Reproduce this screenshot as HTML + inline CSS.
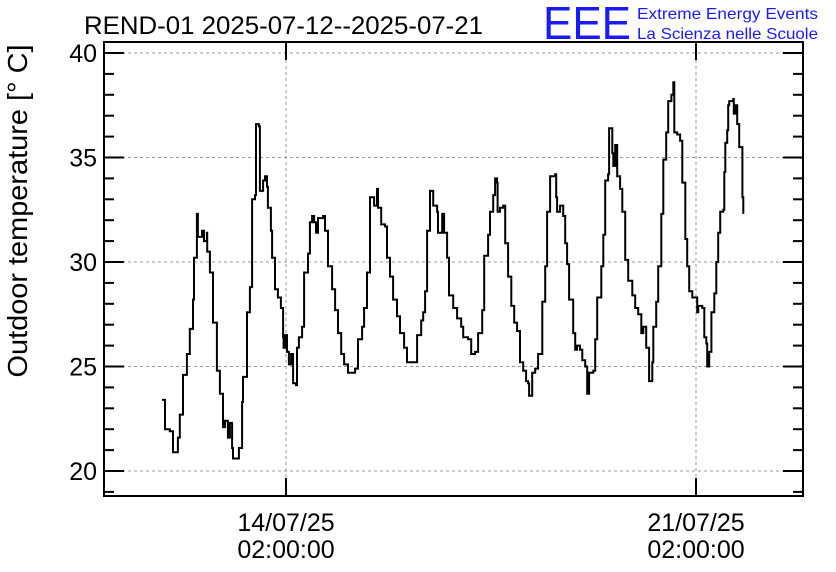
<!DOCTYPE html>
<html><head><meta charset="utf-8"><style>
body{margin:0;background:#fff;}
svg{display:block;font-family:"Liberation Sans",sans-serif;}
</style></head><body>
<svg id="chart" width="836" height="572" viewBox="0 0 836 572" xmlns="http://www.w3.org/2000/svg">
<rect width="836" height="572" fill="#fff"/>
<text x="84" y="34" font-size="25" fill="#000" textLength="399" lengthAdjust="spacingAndGlyphs">REND-01 2025-07-12--2025-07-21</text>
<g>
<text x="543" y="39" font-size="46" fill="#1a1aff" textLength="88" lengthAdjust="spacingAndGlyphs">EEE</text>
<text x="637" y="19" font-size="16" fill="#1a1aff" textLength="181" lengthAdjust="spacingAndGlyphs">Extreme Energy Events</text>
<text x="637" y="39" font-size="16" fill="#1a1aff" textLength="181" lengthAdjust="spacingAndGlyphs">La Scienza nelle Scuole</text>
</g>
<text transform="translate(27,211) rotate(-90)" text-anchor="middle" font-size="28" fill="#000" textLength="333" lengthAdjust="spacingAndGlyphs">Outdoor temperature [° C]</text>
<g id="grid"></g>
<g id="axes"></g>
<g id="series"></g>
</svg>
<script>
const times=[-50.8,-49.6,-47.6,-46.3,-44.3,-43.5,-42.2,-40.6,-39.4,-38.1,-37.7,-36.5,-36.1,-34.4,-33.6,-32.4,-32.3,-31.2,-29.9,-28.3,-27.1,-25.8,-25.0,-23.8,-23.0,-22.1,-21.7,-20.5,-19.3,-18.0,-17.6,-16.0,-14.8,-13.9,-12.7,-12.3,-11.1,-10.7,-9.4,-8.6,-7.8,-7.4,-6.2,-5.7,-4.5,-3.3,-2.1,-1.2,-1.0,-0.4,0.4,1.2,2.1,2.9,4.1,4.5,5.3,6.6,7.4,9.0,9.8,10.7,11.5,12.3,13.1,15.2,16.0,17.2,18.9,20.1,21.3,22.6,23.8,25.4,27.1,28.3,29.5,31.2,32.0,33.2,34.4,36.1,37.3,37.7,39.0,40.6,41.4,42.6,43.9,45.5,46.7,48.4,49.6,51.7,52.9,53.7,55.4,56.2,57.0,57.8,59.0,60.3,61.9,62.3,64.0,64.8,66.0,66.8,68.5,70.1,71.8,72.6,74.6,75.9,77.5,78.7,80.4,81.2,82.8,83.6,84.9,85.7,86.5,86.7,87.7,89.0,89.8,91.0,92.3,93.5,94.7,95.9,97.2,98.4,99.2,99.6,100.9,102.1,103.3,105.0,106.2,107.0,108.2,110.3,110.7,111.1,112.3,113.6,114.4,115.2,116.0,117.7,118.5,119.3,120.5,121.4,122.6,123.4,124.2,125.9,126.7,127.5,129.2,130.0,130.8,132.0,132.4,133.7,134.1,134.9,135.7,136.9,137.8,139.0,140.2,141.9,143.1,144.3,145.6,146.4,147.6,148.8,150.1,150.5,151.7,152.5,153.8,154.6,155.8,156.6,157.9,158.7,159.1,160.3,161.5,162.4,163.6,164.4,165.2,166.5,167.3,168.5,168.9,170.6,171.4,172.2,172.6,173.4,174.3,175.5,176.3,177.1,177.9,179.2,179.6,180.0,180.8,181.2,181.6,183.3,183.5,184.1,184.9,185.7,187.0,187.4];
const temps=[23.4,22.0,21.9,20.9,21.6,22.7,24.6,25.6,26.8,28.2,30.2,32.3,31.2,31.5,31.0,31.4,30.5,29.5,27.1,24.8,23.7,22.1,22.4,21.6,22.3,21.1,20.6,20.6,21.1,23.3,24.5,27.6,28.8,33.0,33.2,36.6,36.5,33.4,33.9,34.1,33.6,32.6,31.5,30.2,28.7,28.3,27.8,26.4,25.9,26.5,25.7,25.1,25.6,24.2,24.1,25.9,26.4,26.9,29.5,30.4,31.9,32.2,31.9,31.4,32.1,32.2,31.5,29.8,28.7,27.7,26.6,25.6,25.1,24.7,24.7,24.9,26.3,26.9,27.8,29.5,33.1,32.7,33.5,32.6,31.8,31.7,30.2,29.3,28.2,27.4,26.6,25.9,25.2,25.2,25.2,26.5,27.2,27.6,28.6,31.5,33.4,32.7,32.4,31.4,32.3,31.4,30.2,28.4,27.8,27.3,26.9,26.4,26.3,25.6,25.7,26.6,27.7,30.3,31.3,32.4,33.2,34.0,33.8,32.4,32.6,32.7,30.9,29.3,27.9,27.1,26.7,25.2,24.8,24.3,24.2,23.6,24.7,24.9,25.6,28.1,29.8,32.4,34.1,34.2,33.1,32.4,32.7,32.2,30.9,29.9,28.2,26.6,25.8,26.0,25.8,25.3,25.0,23.7,24.7,24.8,26.3,28.3,29.8,31.3,33.9,34.2,36.4,35.2,34.6,35.6,34.1,33.5,32.4,30.1,29.1,28.4,27.8,27.5,26.6,26.9,25.9,24.3,25.2,26.9,28.1,29.8,32.3,34.9,36.2,37.7,38.0,38.6,36.2,36.1,35.8,33.8,31.1,29.8,28.6,28.3,28.3,27.6,27.9,27.8,26.4,26.1,25.0,25.7,27.6,28.5,30.0,31.4,32.4,32.5,34.3,35.7,36.3,37.5,37.7,37.8,37.1,37.5,36.6,35.5,33.1,32.3];
const yTicks=[20,25,30,35,40];
const xTickHours=[0,168];
const xTickDates=["14/07/25","21/07/25"];
const xTickTimes=["02:00:00","02:00:00"];

const NS="http://www.w3.org/2000/svg";
const L=104,R=803,T=42,B=496;
function xs(h){return 286+h*(410/168);}
function ys(v){return 471-(v-20)*(418/20);}
function mk(tag,attrs,parent){const e=document.createElementNS(NS,tag);for(const k in attrs)e.setAttribute(k,attrs[k]);parent.appendChild(e);return e;}
const grid=document.getElementById('grid'),axes=document.getElementById('axes'),series=document.getElementById('series');

yTicks.forEach((v,i)=>{
  const g=mk('line',{x1:L,x2:R,y1:ys(v),y2:ys(v),stroke:'#999','stroke-width':1,'stroke-dasharray':'3,3'},grid);
  
  
  const t=mk('text',{x:97,y:ys(v)+9,'text-anchor':'end','font-size':25,fill:'#000'},axes);
  t.textContent=v;
  
  
});
for(let v=19;v<=40;v++){
  const major=(v%5===0);const len=major?20:10;
  mk('line',{x1:L,x2:L+len,y1:ys(v),y2:ys(v),stroke:'#000','stroke-width':2},axes);
  mk('line',{x1:R,x2:R-len,y1:ys(v),y2:ys(v),stroke:'#000','stroke-width':2},axes);
}
xTickHours.forEach((h,i)=>{
  const g=mk('line',{x1:xs(h),x2:xs(h),y1:T,y2:B,stroke:'#999','stroke-width':1,'stroke-dasharray':'3,3'},grid);
  
  
  mk('line',{x1:xs(h),x2:xs(h),y1:B,y2:B-18,stroke:'#000','stroke-width':2},axes);
  mk('line',{x1:xs(h),x2:xs(h),y1:T,y2:T+18,stroke:'#000','stroke-width':2},axes);
  const t1=mk('text',{x:xs(h),y:531,'text-anchor':'middle','font-size':25,fill:'#000'},axes);
  t1.textContent=xTickDates[i];
  
  
  const t2=mk('text',{x:xs(h),y:558,'text-anchor':'middle','font-size':25,fill:'#000'},axes);
  t2.textContent=xTickTimes[i];
  
  
});
const fr=mk('rect',{x:L,y:T,width:R-L,height:B-T,fill:'none',stroke:'#000','stroke-width':2},axes);


let d='';
times.forEach((h,i)=>{
  const x=xs(h).toFixed(1),y=ys(temps[i]).toFixed(1);
  if(i===0){d+='M'+x+' '+y;}else{d+='H'+x+'V'+y;}
});
const p=mk('path',{d:d,fill:'none',stroke:'#000','stroke-width':2,'stroke-linejoin':'miter'},series);


</script>
</body></html>
